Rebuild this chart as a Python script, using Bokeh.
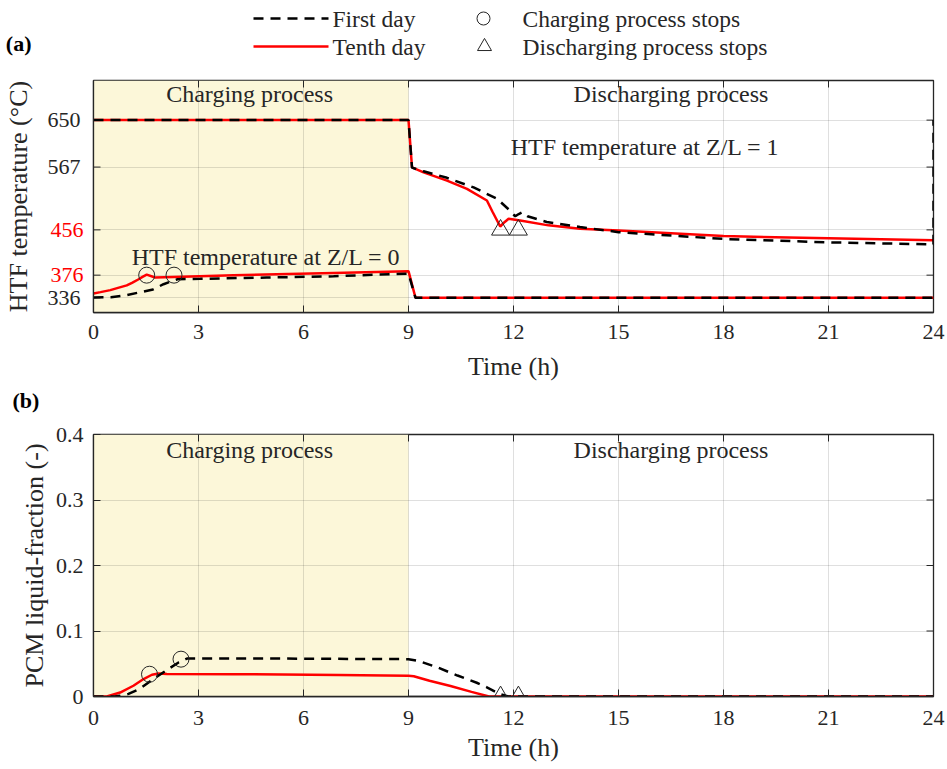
import math

from bokeh.plotting import figure
from bokeh.layouts import column
from bokeh.models import Range1d, FixedTicker, LinearAxis, BoxAnnotation, Title
from bokeh.core.properties import value
from bokeh.embed import file_html
from bokeh.resources import INLINE

# ---------------------------------------------------------------- data
hour_ticks = [0, 3, 6, 9, 12, 15, 18, 21, 24]
temp_ticks = [336, 376, 456, 567, 650]
black_temp_ticks = [336, 567, 650]
red_temp_ticks = [376, 456]
frac_ticks = [0, 0.1, 0.2, 0.3, 0.4]
charging_end = 9

# HTF temperature at Z/L = 1
t_z1_first = [0, 9.0, 9.1, 9.43, 10.1, 10.86, 11.53, 11.9, 12.05, 12.15, 12.25, 12.4,
              12.95, 13.9, 15, 18, 21, 23.8, 24, 24]
T_z1_first = [650, 650, 566, 559.5, 548, 531, 511, 490, 480, 484, 487, 480,
              470, 461, 452, 440, 434, 430.5, 430, 650]
t_z1_tenth = [0, 9.0, 9.1, 9.43, 10.1, 10.67, 11.24, 11.4, 11.62, 11.75, 11.86, 12.19,
              13.0, 13.9, 15, 18, 21, 24]
T_z1_tenth = [650, 650, 566.5, 557.7, 543, 528.5, 508, 488, 462, 470, 475.7, 472.7,
              464, 458, 455, 445, 441, 437.5]

# HTF temperature at Z/L = 0
t_z0_first = [0, 0.5, 0.95, 1.3, 1.7, 2.0, 2.4, 3.05, 4.95, 6.86, 9.0, 9.2, 24]
T_z0_first = [336.5, 337, 340.7, 345.4, 350.7, 360, 368.8, 369.5, 371.8, 374, 378.8, 336, 336]
t_z0_tenth = [0, 0.2, 0.48, 0.7, 0.95, 1.1, 1.29, 1.4, 1.52, 1.76, 2.29, 4.0, 6.86, 9.0, 9.2, 24]
T_z0_tenth = [343.7, 346, 349.5, 353.5, 358, 362.5, 368.8, 373, 377, 371.8, 372.9, 375.9,
              380, 383, 336, 336]

# PCM liquid fraction
t_lf_first = [0, 0.6, 0.76, 1.0, 1.33, 1.72, 2.14, 2.43, 2.67, 5, 9.0, 9.3, 9.8, 10.4,
              10.95, 11.24, 11.6, 11.85, 24]
lf_first = [0, 0, 0.001, 0.004, 0.012, 0.027, 0.042, 0.052, 0.058, 0.058, 0.057, 0.054,
            0.045, 0.032, 0.021, 0.014, 0.004, 0, 0]
t_lf_tenth = [0, 0.38, 0.76, 1.14, 1.43, 1.67, 1.86, 2.1, 4.0, 7.0, 9.0, 9.15, 9.6, 10.2,
              10.8, 11.3, 24]
lf_tenth = [0, 0, 0.006, 0.0164, 0.0266, 0.0332, 0.0352, 0.0342, 0.034, 0.033, 0.0317,
            0.031, 0.024, 0.016, 0.007, 0, 0]

# process-stop markers
charge_stop_t_temp = [1.52, 2.3]
charge_stop_temp = [376, 376]
discharge_stop_t = [11.63, 12.14]
discharge_stop_temp = [456, 456]
charge_stop_t_frac = [1.6, 2.5]
charge_stop_frac = [0.034, 0.057]
discharge_stop_frac = [0, 0]

# ---------------------------------------------------------------- style
SERIF = "Liberation Serif"
INK = "#262626"
RED = "#FF0000"
SHADE = "#FCF7D9"
DASH = "10 7"
LW = 2.5
LEFT, RIGHT = 93, 14
TICK_FONT = "22px"


def style_axis(axis, ticks):
    axis.ticker = FixedTicker(ticks=ticks)
    axis.major_tick_in = 7
    axis.major_tick_out = 0
    axis.minor_tick_in = 0
    axis.minor_tick_out = 0
    axis.axis_line_color = INK
    axis.axis_line_width = 1.3
    axis.major_tick_line_color = INK
    axis.major_label_text_font = SERIF
    axis.major_label_text_color = INK
    axis.major_label_text_font_size = TICK_FONT
    axis.axis_label_text_font = SERIF
    axis.axis_label_text_font_style = "normal"
    axis.axis_label_text_color = INK
    axis.axis_label_text_font_size = "26px"


def edge_ticks(p, x_start, x_end, y_end, yticks, left=False):
    # inward tick marks on the box edges (the outer half of each dash is clipped)
    p.scatter(hour_ticks, [y_end] * len(hour_ticks), marker="dash", angle=math.pi / 2,
              size=14, line_color=INK, line_width=1)
    p.scatter([x_end] * len(yticks), yticks, marker="dash", size=14,
              line_color=INK, line_width=1)
    if left:
        p.scatter([x_start] * len(yticks), yticks, marker="dash", size=14,
                  line_color=INK, line_width=1)


def panel(height, y_range, yticks, grid_ticks, top, bottom,
          tick_standoff, xlabel_standoff):
    p = figure(width=947, height=height, x_range=Range1d(0, 24), y_range=y_range,
               output_backend="svg", toolbar_location=None,
               min_border_left=LEFT, min_border_right=RIGHT,
               min_border_top=top, min_border_bottom=bottom)
    p.background_fill_color = "white"
    p.border_fill_color = "white"
    p.outline_line_color = INK
    p.outline_line_width = 1.3
    p.add_layout(BoxAnnotation(left=0, right=charging_end, fill_color=SHADE,
                               fill_alpha=1, line_alpha=0, level="image"))
    style_axis(p.xaxis[0], hour_ticks)
    style_axis(p.yaxis[0], yticks)
    p.xaxis.axis_label = "Time (h)"
    p.xaxis.major_label_standoff = tick_standoff
    p.xaxis.axis_label_standoff = xlabel_standoff
    p.yaxis.major_label_standoff = 10
    p.xgrid.ticker = FixedTicker(ticks=hour_ticks)
    p.ygrid.ticker = FixedTicker(ticks=grid_ticks)
    p.grid.grid_line_color = INK
    p.grid.grid_line_alpha = 0.15
    p.grid.grid_line_width = 1
    return p


def notes(p, xs, ys, texts):
    p.text(x=xs, y=ys, text=texts, text_font=value(SERIF), text_font_size="24px",
           text_color=INK, text_align="center", text_baseline="middle")


def stop_markers(p, cx, cy, tx, ty):
    p.scatter(cx, cy, marker="circle", size=16, fill_color=None, line_color=INK, line_width=1)
    p.scatter(tx, ty, marker="triangle", size=18, fill_color=None, line_color=INK, line_width=1)


# ---------------------------------------------------------------- legend strip
HEAD_H = 62
head = figure(width=947, height=HEAD_H, x_range=Range1d(LEFT, 947 - RIGHT),
              y_range=Range1d(HEAD_H, 0), x_axis_type=None, y_axis_type=None,
              min_border=0, min_border_left=LEFT, min_border_right=RIGHT,
              output_backend="svg", toolbar_location=None)
head.outline_line_color = None
head.background_fill_color = "white"
head.border_fill_color = "white"
head.grid.visible = False
head.line([253, 328], [18, 18], line_color="black", line_width=LW, line_dash=DASH)
head.line([253, 328], [46, 46], line_color=RED, line_width=LW)
head.scatter([483], [18], marker="circle", size=13, fill_color=None, line_color=INK, line_width=1)
head.scatter([484], [46], marker="triangle", size=14, fill_color=None, line_color=INK, line_width=1)
head.text(x=[332, 332, 522, 522], y=[18, 46, 18, 46],
          text=["First day", "Tenth day", "Charging process stops", "Discharging process stops"],
          text_font=value(SERIF), text_font_size="23.5px", text_color=INK,
          text_align="left", text_baseline="middle")
# panel tag "(a)" set as the single tick label of a bare left axis
tag_a = LinearAxis(ticker=FixedTicker(ticks=[43]), major_label_overrides={43: "(a)"},
                   axis_line_color=None, major_tick_line_color=None, minor_tick_line_color=None,
                   major_label_standoff=56, major_label_text_font=SERIF,
                   major_label_text_font_size="22px", major_label_text_font_style="bold",
                   major_label_text_color="black")
head.add_layout(tag_a, "left")

# ---------------------------------------------------------------- (a) HTF temperature
pa = panel(357, Range1d(310, 720), red_temp_ticks, temp_ticks, 18, 107, 12, 10)
# inner left axis: the two highlighted temperatures in red
pa.yaxis.major_label_text_color = RED
pa.yaxis.major_tick_line_color = None
# outer left axis: remaining temperatures, pulled back into the same label column
outer = LinearAxis(axis_label="HTF temperature (°C)")
style_axis(outer, black_temp_ticks)
outer.axis_line_color = None
outer.major_tick_line_color = None
outer.major_label_standoff = -33
outer.axis_label_standoff = 12
pa.add_layout(outer, "left")
edge_ticks(pa, 0, 24, 720, temp_ticks, left=True)

pa.line(t_z1_tenth, T_z1_tenth, line_color=RED, line_width=LW)
pa.line(t_z0_tenth, T_z0_tenth, line_color=RED, line_width=LW)
pa.line(t_z1_first, T_z1_first, line_color="black", line_width=LW, line_dash=DASH)
pa.line(t_z0_first, T_z0_first, line_color="black", line_width=LW, line_dash=DASH)
stop_markers(pa, charge_stop_t_temp, charge_stop_temp, discharge_stop_t, discharge_stop_temp)
notes(pa, [4.46, 16.5, 15.76, 4.93], [697, 697, 602, 408],
      ["Charging process", "Discharging process",
       "HTF temperature at Z/L = 1", "HTF temperature at Z/L = 0"])
# tag of the lower panel sits in this figure's bottom strip
pa.add_layout(Title(text="(b)", align="left", offset=-81, vertical_align="bottom", standoff=4,
                    text_font=SERIF, text_font_size="22px", text_font_style="bold",
                    text_color="black"), "below")

# ---------------------------------------------------------------- (b) liquid fraction
pb = panel(350, Range1d(0, 0.4), frac_ticks, frac_ticks, 15, 73, 14, 5)
pb.yaxis.axis_label = "PCM liquid-fraction (-)"
pb.yaxis.axis_label_standoff = 4
pb.yaxis.major_label_overrides = {0: "0"}
edge_ticks(pb, 0, 24, 0.4, frac_ticks)
pb.line(t_lf_tenth, lf_tenth, line_color=RED, line_width=LW)
pb.line(t_lf_first, lf_first, line_color="black", line_width=LW, line_dash=DASH)
stop_markers(pb, charge_stop_t_frac, charge_stop_frac, discharge_stop_t, discharge_stop_frac)
notes(pb, [4.46, 16.5], [0.377, 0.377], ["Charging process", "Discharging process"])

layout = column(head, pa, pb)
open("out.html", "w").write(file_html(layout, INLINE))
